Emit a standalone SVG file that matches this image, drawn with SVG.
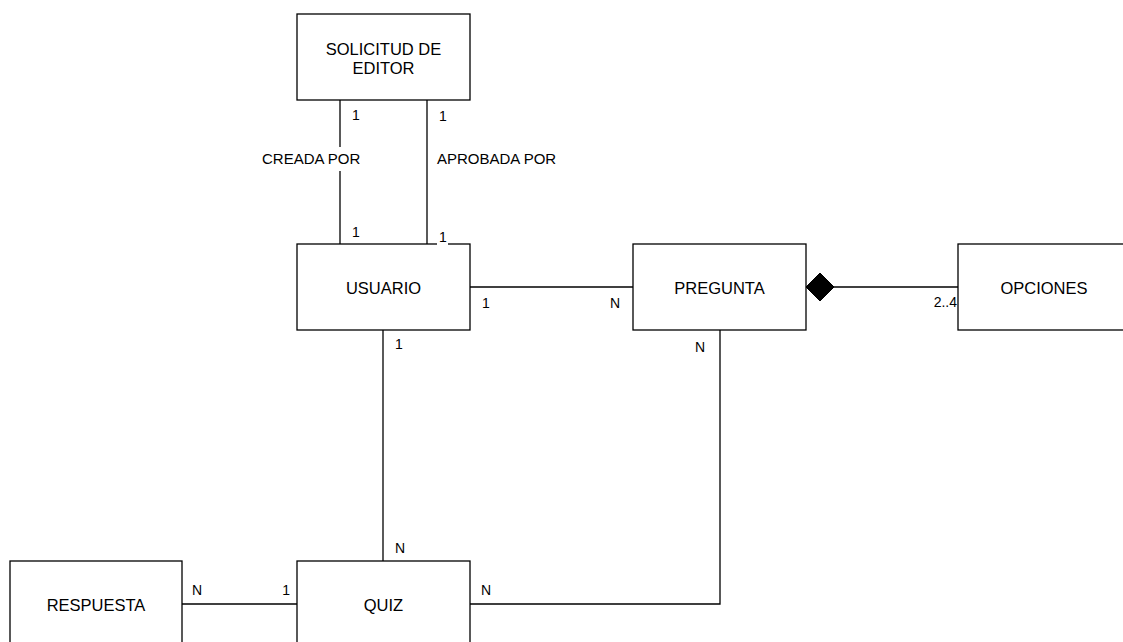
<svg xmlns="http://www.w3.org/2000/svg" width="1123" height="642" viewBox="0 0 1123 642">
  <defs>
    <style>
      .box { fill: #ffffff; stroke: #000000; stroke-width: 1.3; }
      .edge { fill: none; stroke: #000000; stroke-width: 1.3; }
      .name { font-family: "Liberation Sans", Arial, sans-serif; font-size: 16.5px; fill: #000000; text-anchor: middle; }
      .lbl { font-family: "Liberation Sans", Arial, sans-serif; font-size: 15px; fill: #000000; }
      .mult { font-family: "Liberation Sans", Arial, sans-serif; font-size: 14px; fill: #000000; }
      .bg { fill: #ffffff; stroke: none; }
    </style>
  </defs>
  <rect width="1123" height="642" fill="#ffffff"/>

  <!-- connectors -->
  <g id="connectors">
    <line class="edge" x1="340" y1="100" x2="340" y2="244"/>
    <line class="edge" x1="427" y1="100" x2="427" y2="244"/>
    <line class="edge" x1="470" y1="287" x2="633" y2="287"/>
    <line class="edge" x1="834" y1="287" x2="958" y2="287"/>
    <polygon points="806,287 820,273 834,287 820,301" fill="#000000" stroke="#000000" stroke-width="1"/>
    <line class="edge" x1="383" y1="330" x2="383" y2="561"/>
    <polyline class="edge" points="720,330 720,604 470,604"/>
    <line class="edge" x1="182" y1="604" x2="297" y2="604"/>
  </g>

  <!-- entities -->
  <g id="solicitud">
    <rect class="box" x="297" y="14" width="173" height="86"/>
    <text class="name" x="383.5" y="55">SOLICITUD DE</text>
    <text class="name" x="383.5" y="74">EDITOR</text>
  </g>
  <g id="usuario">
    <rect class="box" x="297" y="244" width="173" height="86"/>
    <text class="name" x="383.5" y="294">USUARIO</text>
  </g>
  <g id="pregunta">
    <rect class="box" x="633" y="244" width="173" height="86"/>
    <text class="name" x="719.5" y="294">PREGUNTA</text>
  </g>
  <g id="opciones">
    <rect class="box" x="958" y="244" width="173" height="86"/>
    <text class="name" x="1044" y="294">OPCIONES</text>
  </g>
  <g id="respuesta">
    <rect class="box" x="10" y="561" width="172" height="90"/>
    <text class="name" x="96" y="611">RESPUESTA</text>
  </g>
  <g id="quiz">
    <rect class="box" x="297" y="561" width="173" height="90"/>
    <text class="name" x="383.5" y="611">QUIZ</text>
  </g>

  <!-- relationship labels and multiplicities -->
  <g id="labels">
    <rect class="bg" x="262" y="147" width="101" height="24"/>
    <text class="lbl" x="262" y="164">CREADA POR</text>
    <text class="lbl" x="437" y="164">APROBADA POR</text>

    <text class="mult" x="352" y="120">1</text>
    <text class="mult" x="439" y="121">1</text>
    <text class="mult" x="352" y="237">1</text>
    <rect class="bg" x="437" y="231" width="11" height="14"/>
    <text class="mult" x="439" y="242">1</text>

    <text class="mult" x="482" y="308">1</text>
    <text class="mult" x="610" y="308">N</text>
    <text class="mult" x="957" y="307" text-anchor="end">2..4</text>

    <text class="mult" x="395" y="349">1</text>
    <text class="mult" x="695" y="352">N</text>
    <text class="mult" x="395" y="553">N</text>
    <text class="mult" x="481" y="595">N</text>
    <text class="mult" x="192" y="595">N</text>
    <text class="mult" x="290" y="595" text-anchor="end">1</text>
  </g>
</svg>
